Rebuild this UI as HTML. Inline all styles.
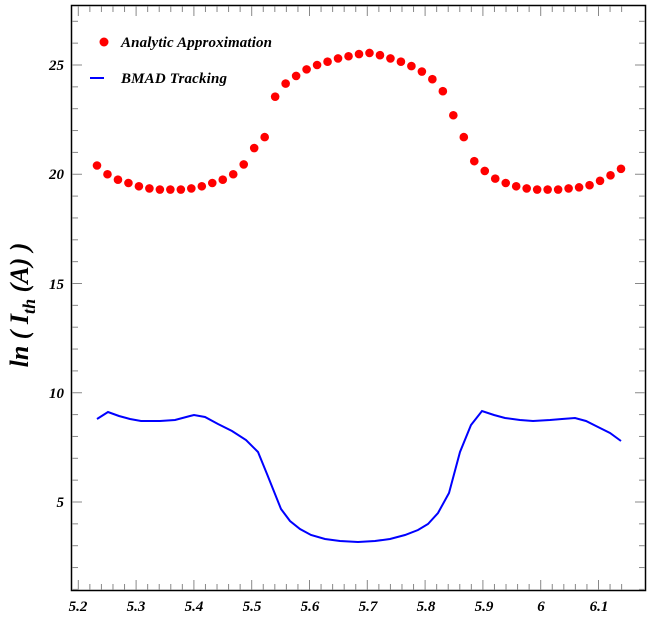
<!DOCTYPE html><html><head><style>body{margin:0;background:#fff}svg{display:block}text{font-family:"Liberation Serif",serif;font-weight:bold;font-style:italic}</style></head><body>
<svg width="655" height="617" viewBox="0 0 655 617">
<rect x="71.5" y="5.5" width="574" height="585" fill="none" stroke="#000" stroke-width="1.5"/>
<g id="t" stroke="#888" stroke-width="1"></g>
<g font-size="15" text-anchor="middle">
<text x="78" y="611">5.2</text><text x="136" y="611">5.3</text><text x="194" y="611">5.4</text><text x="252" y="611">5.5</text><text x="310" y="611">5.6</text><text x="368" y="611">5.7</text><text x="426" y="611">5.8</text><text x="484" y="611">5.9</text><text x="541" y="611">6</text><text x="599" y="611">6.1</text>
</g>
<g font-size="15" text-anchor="end">
<text x="64" y="70">25</text><text x="64" y="179">20</text><text x="64" y="289">15</text><text x="64" y="398">10</text><text x="64" y="507">5</text>
</g>
<text transform="translate(28,305) rotate(-90)" font-size="26" text-anchor="middle">ln ( I<tspan font-size="18" dy="7">th</tspan><tspan dy="-7"> (A) )</tspan></text>
<circle cx="104" cy="42" r="4.5" fill="red"/><text x="121" y="47" font-size="15" textLength="151">Analytic Approximation</text>
<line x1="90" y1="78" x2="104" y2="78" stroke="#00f" stroke-width="2"/><text x="121" y="83" font-size="15" textLength="106">BMAD Tracking</text>
<polyline fill="none" stroke="#00f" stroke-width="2" points="97,419 108,412 119,416 130,419 141,421 160,421 175,420 190,416 194,415 205,417 218,424 232,431 246,440 258,452 267,474 281,509 290,521 300,529 311,535 325,539 340,541 358,542 375,541 390,539 405,535 418,530 428,524 438,513 449,493 460,452 471,425 482,411 494,415 505,418 520,420 533,421 550,420 562,419 575,418 586,421 596,426 610,433 621,441"/>
<g id="d" fill="red"></g>
</svg>
<script>
var t=document.getElementById('t'),s='';
function L(a,b,c,d){s+='<line x1="'+a+'" y1="'+b+'" x2="'+c+'" y2="'+d+'"/>';}
for(var i=0;i<=47;i++){var x=78.3+i*11.56;if(x>645)break;var len=(i%5==0)?10:6;L(x,590,x,590-len);L(x,6,x,6+len);}
for(var v=1;v<=27;v++){var y=65+(25-v)*21.85;var len=(v%5==0)?10:6;L(72,y,72+len,y);L(645,y,645-len,y);}
t.innerHTML=s;
var ys=[20.4,20.0,19.75,19.6,19.45,19.35,19.3,19.3,19.3,19.35,19.45,19.6,19.75,20.0,20.45,21.2,21.7,23.55,24.15,24.5,24.8,25.0,25.15,25.3,25.4,25.5,25.55,25.45,25.3,25.15,24.95,24.7,24.35,23.8,22.7,21.7,20.6,20.15,19.8,19.6,19.45,19.35,19.3,19.3,19.3,19.35,19.4,19.5,19.7,19.95,20.25];
var d='',n=ys.length;
for(var i=0;i<n;i++){var x=97+i*(621-97)/(n-1);d+='<circle cx="'+x+'" cy="'+(65+(25-ys[i])*21.85)+'" r="4.3"/>';}
document.getElementById('d').innerHTML=d;
</script>
</body></html>
